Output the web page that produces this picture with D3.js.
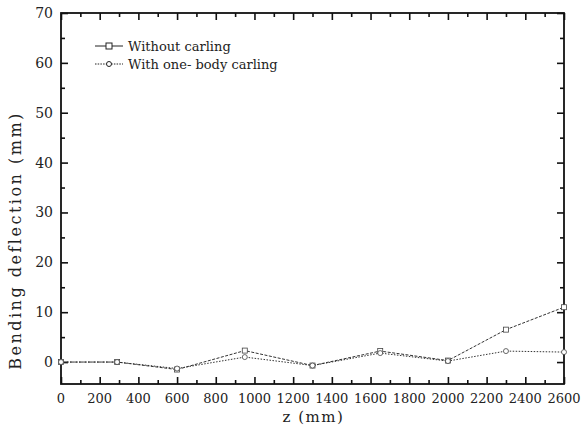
<!DOCTYPE html>
<html>
<head>
<meta charset="utf-8">
<script src="https://cdn.jsdelivr.net/npm/d3@7"></script>
<style>
  body { margin: 0; background: #fff; }
  text { font-family: "DejaVu Serif", "Liberation Serif", serif; fill: #222; }
</style>
</head>
<body>
<div id="chart"></div>
<script>
// chart data
const zValues = [0, 290, 600, 950, 1300, 1650, 2000, 2300, 2600];
const withoutCarling = [0, 0, -1.5, 2.3, -0.7, 2.2, 0.3, 6.5, 11];
const withOneBody = [0, 0, -1.3, 1.0, -0.7, 1.8, 0.2, 2.2, 2.0];
const xTicks = d3.range(0, 2601, 200);
const yTicks = d3.range(0, 71, 10);

const width = 587, height = 427;
const margin = {left: 61, right: 23, top: 13, bottom: 43};

const svg = d3.select("#chart")
  .append("svg")
  .attr("width", width)
  .attr("height", height);

let xScale = d3.scaleLinear()
  .domain([0, 2600])
  .range([margin.left, width - margin.right]);

let yScale = d3.scaleLinear()
  .domain([-4.4, 70])
  .range([height - margin.bottom, margin.top]);

const x0 = margin.left, x1 = width - margin.right;
const y0 = height - margin.bottom, y1 = margin.top;

/*
  Axes: inward ticks on all four sides
*/
function styleAxis(g) {
  g.select(".domain").remove();
  g.selectAll(".tick line").attr("stroke", "#111").attr("stroke-width", 1.6);
  g.selectAll("text").remove();
}

const minorX = d3.range(100, 2600, 200);
const minorY = d3.range(5, 70, 10);

// major + minor x ticks, bottom and top
svg.append("g").attr("transform", `translate(0,${y0})`)
  .call(d3.axisBottom(xScale).tickValues(xTicks).tickSize(-7)).call(styleAxis);
svg.append("g").attr("transform", `translate(0,${y0})`)
  .call(d3.axisBottom(xScale).tickValues(minorX).tickSize(-4)).call(styleAxis);
svg.append("g").attr("transform", `translate(0,${y1})`)
  .call(d3.axisTop(xScale).tickValues(xTicks).tickSize(-7)).call(styleAxis);
svg.append("g").attr("transform", `translate(0,${y1})`)
  .call(d3.axisTop(xScale).tickValues(minorX).tickSize(-4)).call(styleAxis);

// major + minor y ticks, left and right
svg.append("g").attr("transform", `translate(${x0},0)`)
  .call(d3.axisLeft(yScale).tickValues(yTicks).tickSize(-7)).call(styleAxis);
svg.append("g").attr("transform", `translate(${x0},0)`)
  .call(d3.axisLeft(yScale).tickValues(minorY).tickSize(-4)).call(styleAxis);
svg.append("g").attr("transform", `translate(${x1},0)`)
  .call(d3.axisRight(yScale).tickValues(yTicks).tickSize(-7)).call(styleAxis);
svg.append("g").attr("transform", `translate(${x1},0)`)
  .call(d3.axisRight(yScale).tickValues(minorY).tickSize(-4)).call(styleAxis);

svg.append("rect")
  .attr("x", x0).attr("y", y1)
  .attr("width", x1 - x0).attr("height", y0 - y1)
  .attr("fill", "none").attr("stroke", "#111").attr("stroke-width", 1.8);

svg.append("g").selectAll("text")
  .data(xTicks)
  .join("text")
  .attr("x", d => xScale(d))
  .attr("y", y0 + 19)
  .attr("text-anchor", "middle")
  .attr("font-size", "13px")
  .text(d => d);

svg.append("g").selectAll("text")
  .data(yTicks)
  .join("text")
  .attr("x", x0 - 8)
  .attr("y", d => yScale(d) + 5)
  .attr("text-anchor", "end")
  .attr("font-size", "14px")
  .text(d => d);

svg.append("text")
  .attr("x", (x0 + x1) / 2 + 1)
  .attr("y", 422)
  .attr("text-anchor", "middle")
  .attr("font-size", "15px")
  .attr("letter-spacing", "1.5px")
  .text("z (mm)");

svg.append("text")
  .attr("transform", `translate(21, ${(y0 + y1) / 2 + 42}) rotate(-90)`)
  .attr("text-anchor", "middle")
  .attr("font-size", "16px")
  .attr("letter-spacing", "2.5px")
  .text("Bending deflection (mm)");

/*
  Lines
*/
const series = [
  {name: "Without carling", values: withoutCarling, marker: "square", dash: "3,1.5"},
  {name: "With one- body carling", values: withOneBody, marker: "circle", dash: "1.5,1.5"}
];

const line = d3.line()
  .x(d => xScale(d[0]))
  .y(d => yScale(d[1]));

series.forEach(s => {
  let pts = zValues.map((z, i) => [z, s.values[i]]);
  svg.append("path")
    .datum(pts)
    .attr("d", line)
    .attr("fill", "none")
    .attr("stroke", "#333")
    .attr("stroke-width", 1)
    .attr("stroke-dasharray", s.dash);

  let g = svg.append("g");
  if (s.marker === "square") {
    g.selectAll("rect").data(pts).join("rect")
      .attr("x", d => xScale(d[0]) - 2.5)
      .attr("y", d => yScale(d[1]) - 2.5)
      .attr("width", 5).attr("height", 5)
      .attr("fill", "white").attr("stroke", "#444").attr("stroke-width", 0.8);
  } else {
    g.selectAll("circle").data(pts).join("circle")
      .attr("cx", d => xScale(d[0]))
      .attr("cy", d => yScale(d[1]))
      .attr("r", 2.5)
      .attr("fill", "white").attr("stroke", "#444").attr("stroke-width", 0.8);
  }
});

/*
  Legend
*/
const legend = svg.append("g").attr("transform", "translate(95, 46)");
series.forEach((s, i) => {
  let y = i * 18;
  legend.append("line")
    .attr("x1", 0).attr("x2", 28).attr("y1", y).attr("y2", y)
    .attr("stroke", "#222").attr("stroke-width", 1)
    .attr("stroke-dasharray", i === 0 ? null : "1.5,1.2");
  if (s.marker === "square") {
    legend.append("rect").attr("x", 11).attr("y", y - 3).attr("width", 6).attr("height", 6)
      .attr("fill", "white").attr("stroke", "#222");
  } else {
    legend.append("circle").attr("cx", 14).attr("cy", y).attr("r", 2.5)
      .attr("fill", "white").attr("stroke", "#222");
  }
  legend.append("text")
    .attr("x", 33).attr("y", y + 4.5)
    .attr("font-size", "13px")
    .text(s.name);
});
</script>
</body>
</html>
